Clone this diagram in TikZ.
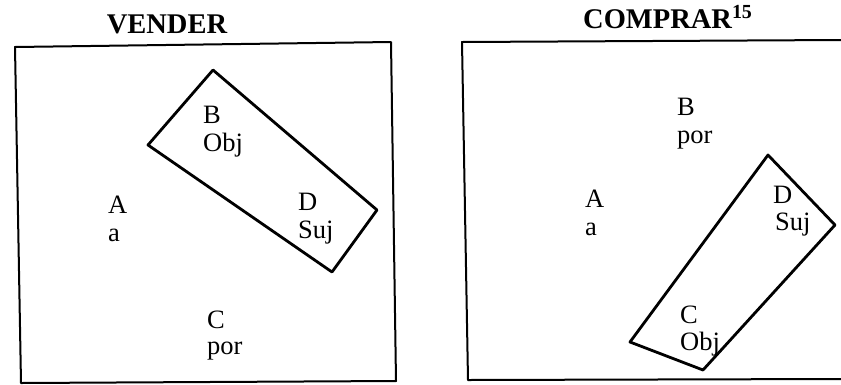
\documentclass[tikz,border=0pt]{standalone}
\usepackage{fontspec}
\setmainfont{Liberation Serif}
\usepackage{tikz}
\newfontfamily\lblfont{Liberation Serif}
\tikzset{
  lbl/.style={anchor=base west,inner sep=0pt,font=\lblfont\fontsize{26.5}{30}\selectfont},
  ttl/.style={anchor=base,inner sep=0pt,font=\bfseries\fontsize{28.5}{32}\selectfont},
  frm/.style={draw=black,line width=2pt,line join=round},
  grp/.style={draw=black,line width=2.8pt,line join=round}
}
\begin{document}
\begin{tikzpicture}[x=1pt,y=-1pt]
\useasboundingbox (0,0) rectangle (841,384);
% left panel:
\node[ttl] (tV) at (167,33) {VENDER};
\path[frm] (15,47) -- (391,42) -- (396,381) -- (21,383) -- cycle;
\path[grp] (213,70) -- (377,210) -- (332,272) -- (148,145) -- cycle;
\node[lbl] (lB) at (203,123) {B};
\node[lbl] (lBr) at (203,151) {Obj};
\node[lbl] (lA) at (108,213) {A};
\node[lbl] (lAr) at (108,241) {a};
\node[lbl] (lD) at (298,210) {D};
\node[lbl] (lDr) at (298,238) {Suj};
\node[lbl] (lC) at (207,328) {C};
\node[lbl] (lCr) at (207,354) {por};
% right panel:
\node[ttl,anchor=base west] (tC) at (583,28) {COMPRAR\textsuperscript{15}};
\path[frm] (841,40) -- (462,42) -- (468,380) -- (841,379);
\path[grp] (768,155) -- (835,225) -- (703,370) -- (630,342) -- cycle;
\node[lbl] (rB) at (677,115) {B};
\node[lbl] (rBr) at (677,143) {por};
\node[lbl] (rA) at (585,207) {A};
\node[lbl] (rAr) at (585,235) {a};
\node[lbl] (rD) at (773,203) {D};
\node[lbl] (rDr) at (775,230) {Suj};
\node[lbl] (rC) at (680,323) {C};
\node[lbl] (rCr) at (680,350) {Obj};
\end{tikzpicture}
\end{document}
